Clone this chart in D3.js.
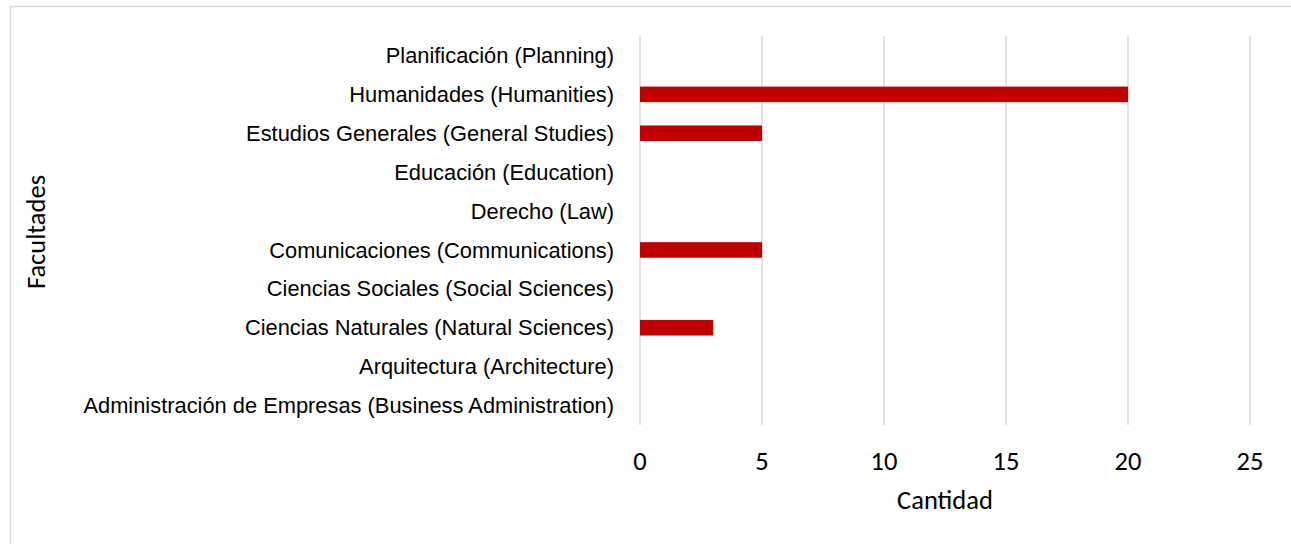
<!DOCTYPE html>
<html>
<head>
<meta charset="utf-8">
<script src="https://cdn.jsdelivr.net/npm/d3@7"></script>
<style>
  html, body { margin: 0; padding: 0; background: #fff; }
  svg { display: block; }
</style>
</head>
<body>
<svg id="chart" width="1291" height="544"></svg>
<script>
const categories = [
  "Planificación (Planning)",
  "Humanidades (Humanities)",
  "Estudios Generales (General Studies)",
  "Educación (Education)",
  "Derecho (Law)",
  "Comunicaciones (Communications)",
  "Ciencias Sociales (Social Sciences)",
  "Ciencias Naturales (Natural Sciences)",
  "Arquitectura (Architecture)",
  "Administración de Empresas (Business Administration)"
];
const values = [0, 20, 5, 0, 0, 5, 0, 3, 0, 0];
const xTicks = [0, 5, 10, 15, 20, 25];
const xTitle = "Cantidad";
const yTitle = "Facultades";

const svg = d3.select("#chart");

// chart border
svg.append("rect")
  .attr("x", 10.5).attr("y", 6.5)
  .attr("width", 1300).attr("height", 560)
  .attr("fill", "none").attr("stroke", "#d9d9d9").attr("stroke-width", 1.5);

const x = d3.scaleLinear().domain([0, 25]).range([640, 1250]);
const y = d3.scaleBand().domain(categories).range([36, 425])
  .paddingInner(0.6).paddingOuter(0.3);

// gridlines
svg.append("g").selectAll("line").data(xTicks).join("line")
  .attr("x1", d => x(d)).attr("x2", d => x(d))
  .attr("y1", 36).attr("y2", 425)
  .attr("stroke", "#d9d9d9").attr("stroke-width", 1.5);

// bars
svg.append("g").selectAll("rect").data(categories).join("rect")
  .attr("x", x(0))
  .attr("y", d => y(d))
  .attr("width", (d, i) => x(values[i]) - x(0))
  .attr("height", y.bandwidth())
  .attr("fill", "#c00000");

// category labels
svg.append("g").selectAll("text").data(categories).join("text")
  .attr("x", 614)
  .attr("y", d => y(d) + y.bandwidth() / 2)
  .attr("dy", "0.35em")
  .attr("text-anchor", "end")
  .attr("font-family", "'Liberation Sans', Arial, sans-serif")
  .attr("font-size", "21.85px")
  .attr("fill", "#000")
  .text(d => d);

const calibri = "Carlito, Calibri, 'Open Sans', sans-serif";

// x tick labels
svg.append("g").selectAll("text").data(xTicks).join("text")
  .attr("x", d => x(d))
  .attr("y", 470)
  .attr("text-anchor", "middle")
  .attr("font-family", calibri)
  .attr("font-size", "26.5px")
  .attr("fill", "#000")
  .text(d => d);

// x title
svg.append("text")
  .attr("x", 945).attr("y", 509)
  .attr("text-anchor", "middle")
  .attr("font-family", calibri)
  .attr("font-size", "26.5px")
  .attr("fill", "#000")
  .text(xTitle);

// y title
svg.append("text")
  .attr("transform", "translate(45,232) rotate(-90)")
  .attr("text-anchor", "middle")
  .attr("font-family", calibri)
  .attr("font-size", "26.5px")
  .attr("fill", "#000")
  .text(yTitle);
</script>
</body>
</html>
